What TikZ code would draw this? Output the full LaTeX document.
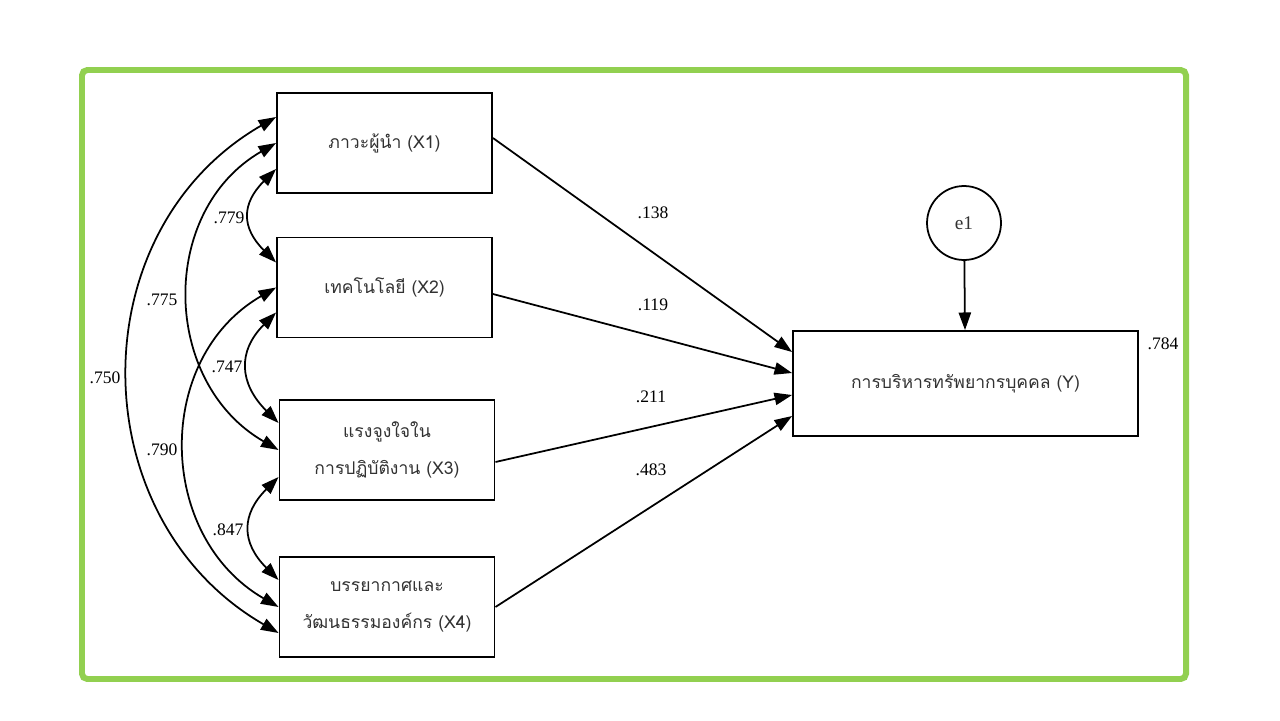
\documentclass[tikz,border=0pt]{standalone}
\usepackage{fontspec}
\setmainfont{Liberation Serif}
\newfontfamily\thaifont[Script=Thai]{Loma}
\usetikzlibrary{arrows, arrows.meta}
\usetikzlibrary{calc}
\definecolor{framegreen}{RGB}{146,208,80}
\definecolor{textgray}{RGB}{50,50,50}
\tikzset{
  var/.style={draw, line width=1.1pt, minimum width=4.3cm, minimum height=2cm,
    align=center, text=textgray, font=\thaifont\fontsize{10}{21}\selectfont},
  err/.style={circle, draw, line width=1pt, minimum size=1.48cm, inner sep=0pt,
    text=textgray, font=\fontsize{11}{13}\selectfont},
  coef/.style={inner sep=1pt, font=\fontsize{10}{12}\selectfont},
  path/.style={line width=1pt, -{Triangle[length=10pt,width=7pt]}},
  cov/.style={line width=1pt, {Triangle[length=10pt,width=7pt]}-{Triangle[length=10pt,width=7pt]}}
}
\begin{document}
\begin{tikzpicture}[x=0.02cm, y=-0.02cm]
    \useasboundingbox (0,0) rectangle (1280,720);
    \draw[framegreen, line width=3.4pt, rounded corners=3pt] (82,70) rectangle (1186,679);

    % observed variables
    \node[var] (x1) at (384.5,143) {ภาวะผู้นำ (X1)};
    \node[var] (x2) at (384.5,287.5) {เทคโนโลยี (X2)};
    \node[var] (x3) at (387,450) {แรงจูงใจใน\\การปฏิบัติงาน (X3)};
    \node[var] (x4) at (387,607) {บรรยากาศและ\\วัฒนธรรมองค์กร (X4)};
    \node[var, minimum width=6.9cm, minimum height=2.1cm] (y) at (965.5,383.5) {การบริหารทรัพยากรบุคคล (Y)};
    \node[err] (e1) at (964,223) {e1};

    % paths
    \draw[path] ([yshift=0.1cm]x1.east) -- ([yshift=0.63cm]y.west);
    \draw[path] ([yshift=-0.13cm]x2.east) -- ([yshift=0.21cm]y.west);
    \draw[path] ([yshift=-0.24cm]x3.east) -- ([yshift=-0.23cm]y.west);
    \draw[path] (x4.east) -- ([yshift=-0.65cm]y.west);
    \draw[path] (e1) -- (y);

    % covariances
    \draw[cov] ([yshift=-0.52cm]x1.west) to[out=225, in=135, looseness=1.35] ([yshift=0.5cm]x2.west);
    \draw[cov] ([yshift=-0.5cm]x2.west) to[out=225, in=135, looseness=1.28] ([yshift=0.54cm]x3.west);
    \draw[cov] ([yshift=-0.54cm]x3.west) to[out=225, in=135, looseness=1.32] ([yshift=0.54cm]x4.west);
    \draw[cov] (x1.west) to[out=210, in=150, looseness=1.13] (x3.west);
    \draw[cov] (x2.west) to[out=210, in=150, looseness=1.13] (x4.west);
    \draw[cov] ([yshift=0.52cm]x1.west) to[out=210, in=150, looseness=1.13] ([yshift=-0.52cm]x4.west);

    % estimates
    \node[coef] (b1) at (653,213) {.138};
    \node[coef] (b2) at (653,305) {.119};
    \node[coef] (b3) at (651,397) {.211};
    \node[coef] (b4) at (651,470) {.483};
    \node[coef] (r2) at (1163,344) {.784};
    \node[coef] (c12) at (229,218) {.779};
    \node[coef] (c13) at (162,300) {.775};
    \node[coef] (c14) at (105,378) {.750};
    \node[coef] (c23) at (227,367) {.747};
    \node[coef] (c24) at (162,450) {.790};
    \node[coef] (c34) at (228,530) {.847};
\end{tikzpicture}
\end{document}
